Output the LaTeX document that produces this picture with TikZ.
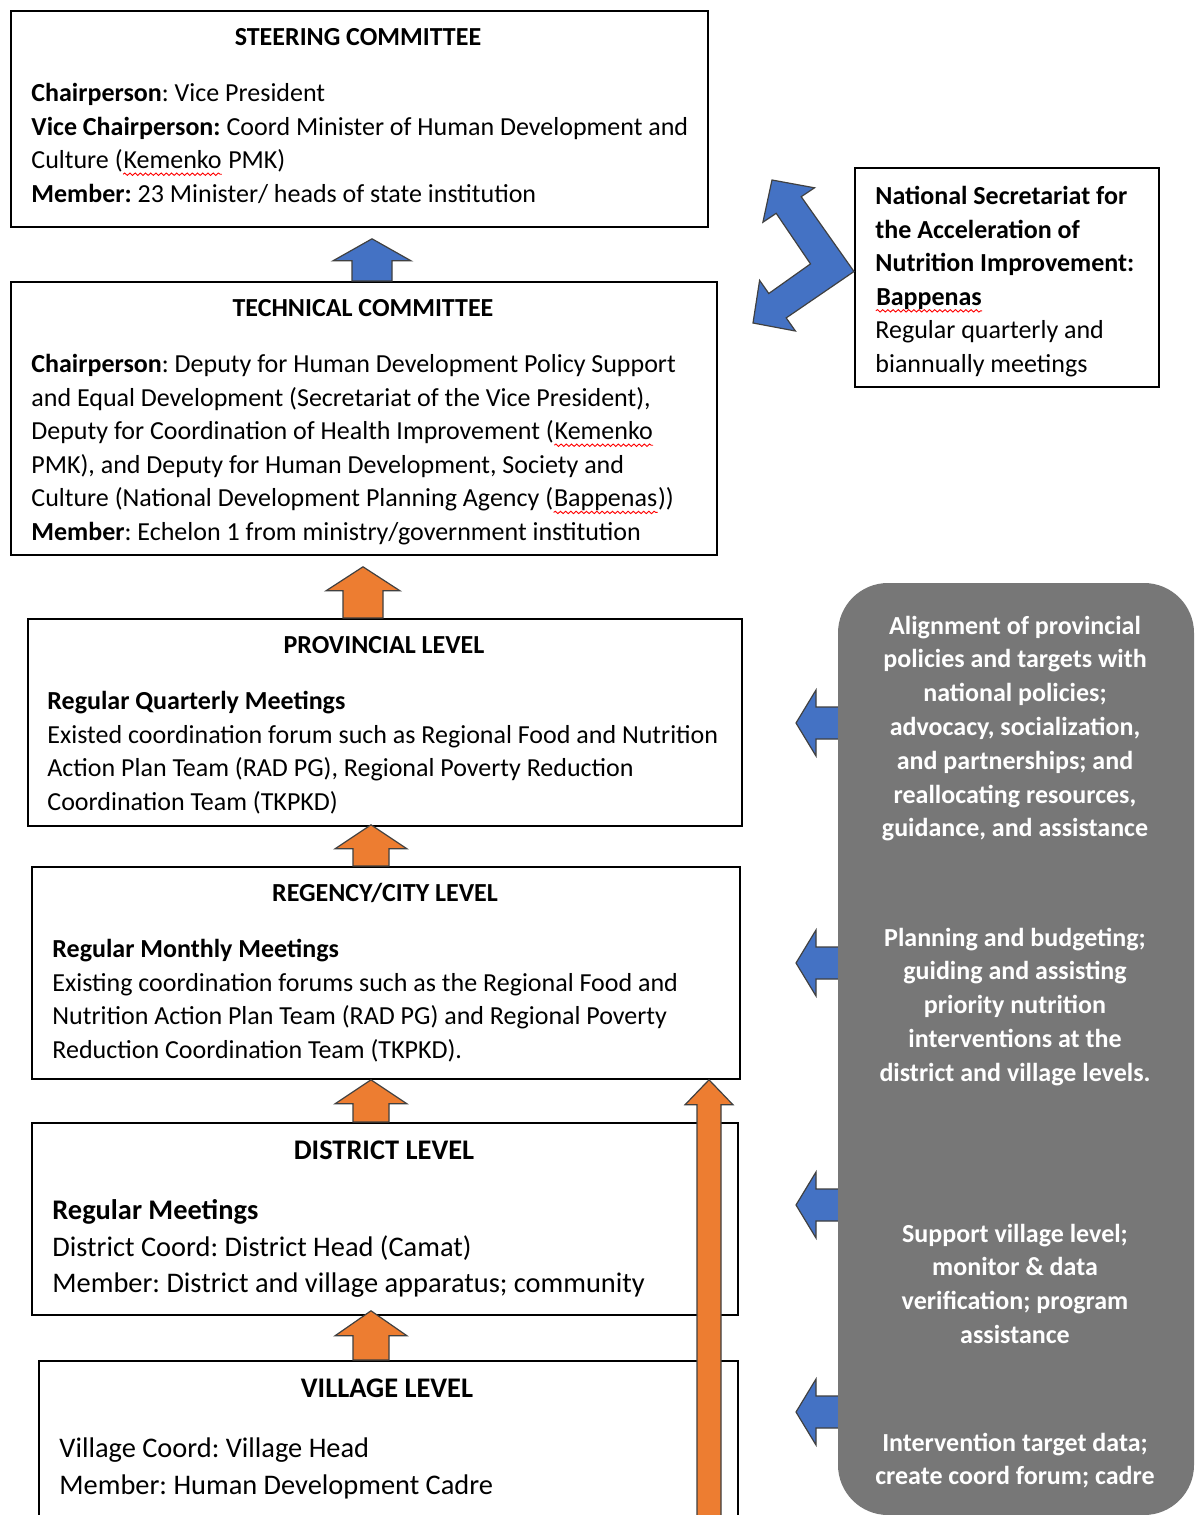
\documentclass[tikz,border=0pt]{standalone}
\usepackage{fontspec}
\setmainfont{Carlito}
\usetikzlibrary{calc}
\usetikzlibrary{decorations.pathmorphing}

\definecolor{arrblue}{HTML}{4472C4}
\definecolor{arrorange}{HTML}{ED7D31}
\definecolor{panelgray}{HTML}{777777}

% red wavy underline of the spell check
\newcommand{\spellerr}[1]{\tikz[baseline=(word.base)]{\node[inner sep=0pt] (word) {#1};
	\draw[red,line width=0.45pt,decorate,decoration={snake,amplitude=0.6pt,segment length=2.6pt}]
		([yshift=-2.8pt]word.base west) -- ([yshift=-2.8pt]word.base east);}}

% block arrow pointing up: fill, tip, base, shaft half, head half, head length
\newcommand{\upblock}[6]{%
	\filldraw[blockarrow,fill=#1] ($(#3)+(-#4,0)$) -- ($(#2)+(-#4,#6)$) -- ($(#2)+(-#5,#6)$) -- (#2)
		-- ($(#2)+(#5,#6)$) -- ($(#2)+(#4,#6)$) -- ($(#3)+(#4,0)$) -- cycle;}
% block arrow pointing left: tip, base
\newcommand{\leftblock}[2]{%
	\filldraw[blockarrow,fill=arrblue] ($(#2)+(0,-16)$) -- ($(#1)+(20,-16)$) -- ($(#1)+(20,-33)$) -- (#1)
		-- ($(#1)+(20,33)$) -- ($(#1)+(20,16)$) -- ($(#2)+(0,16)$) -- cycle;}

\tikzset{
	blockarrow/.style={draw=black!75,line width=0.6pt,line join=miter},
	levelbox/.style 2 args={draw,line width=0.9pt,fill=white,anchor=north west,inner sep=0pt,
		minimum width=#1*0.5pt,minimum height=#2*0.5pt},
	boxtitle/.style={font=\fontsize{13}{16.8}\selectfont\bfseries,inner sep=0pt},
	boxtext/.style={font=\fontsize{13}{16.8}\selectfont\frenchspacing,align=left,anchor=north west,inner sep=0pt},
	bigtitle/.style={font=\fontsize{14.2}{18.2}\selectfont\bfseries,inner sep=0pt},
	bigtext/.style={font=\fontsize{14.2}{18.2}\selectfont\frenchspacing,align=left,anchor=north west,inner sep=0pt},
	paneltext/.style={font=\fontsize{13}{16.9}\selectfont\bfseries\frenchspacing,text=white,align=center,anchor=north,inner sep=0pt},
}

\begin{document}
\begin{tikzpicture}[x=0.5pt,y=-0.5pt]
	\useasboundingbox (0,0) rectangle (1194,1515);
	\fill[white] (0,0) rectangle (1194,1515);

	% committee and level boxes
	\node[levelbox={697}{216}] (steer) at (10,10) {};
	\node[levelbox={706}{273}] (tech) at (10,281) {};
	\node[levelbox={304}{219}] (secr) at (854,167) {};
	\node[levelbox={714}{207}] (prov) at (27,618) {};
	\node[levelbox={708}{212}] (reg) at (31,866) {};
	\node[levelbox={706}{192}] (dist) at (31,1122) {};
	\node[levelbox={699}{200}] (vill) at (38,1360) {};

	\node[boxtitle] (steer title) at (358,37) {STEERING COMMITTEE};
	\node[boxtext] (steer text) at (31,77.5) {\strut\textbf{Chairperson}: Vice President\\
		\textbf{Vice Chairperson:} Coord Minister of Human Development and\\
		Culture (\spellerr{Kemenko} PMK)\\
		\textbf{Member:} 23 Minister/ heads of state institution};

	\node[boxtitle] (tech title) at (363,308) {TECHNICAL COMMITTEE};
	\node[boxtext] (tech text) at (31,348.5) {\strut\textbf{Chairperson}: Deputy for Human Development Policy Support\\
		and Equal Development (Secretariat of the Vice President),\\
		Deputy for Coordination of Health Improvement (\spellerr{Kemenko}\\
		PMK), and Deputy for Human Development, Society and\\
		Culture (National Development Planning Agency (\spellerr{Bappenas}))\\
		\textbf{Member}: Echelon 1 from ministry/government institution};

	\node[boxtext] (secr text) at (875,180.5) {\strut\textbf{National Secretariat for}\\
		\textbf{the Acceleration of}\\
		\textbf{Nutrition Improvement:}\\
		\spellerr{\textbf{Bappenas}}\\
		Regular quarterly and\\
		biannually meetings};

	\node[boxtitle] (prov title) at (384,645) {PROVINCIAL LEVEL};
	\node[boxtext] (prov text) at (47,685.5) {\strut\textbf{Regular Quarterly Meetings}\\
		Existed coordination forum such as Regional Food and Nutrition\\
		Action Plan Team (RAD PG), Regional Poverty Reduction\\
		Coordination Team (TKPKD)};

	\node[boxtitle] (reg title) at (385,893) {REGENCY/CITY LEVEL};
	\node[boxtext] (reg text) at (52,933.5) {\strut\textbf{Regular Monthly Meetings}\\
		Existing coordination forums such as the Regional Food and\\
		Nutrition Action Plan Team (RAD PG) and Regional Poverty\\
		Reduction Coordination Team (TKPKD).};

	\node[bigtitle] (dist title) at (384,1150) {DISTRICT LEVEL};
	\node[bigtext] (dist text) at (52,1194) {\strut\textbf{Regular Meetings}\\
		District Coord: District Head (Camat)\\
		Member: District and village apparatus; community};

	\node[bigtitle] (vill title) at (387,1388) {VILLAGE LEVEL};
	\node[bigtext] (vill text) at (59,1432) {\strut Village Coord: Village Head\\
		Member: Human Development Cadre};

	% arrows between the levels
	\coordinate (a1 tip) at ($(372,0 |- steer.south)+(0,11)$);
	\coordinate (a1 base) at (372,0 |- tech.north);
	\upblock{arrblue}{a1 tip}{a1 base}{20}{39}{22}
	\coordinate (a2 tip) at ($(363,0 |- tech.south)+(0,11)$);
	\coordinate (a2 base) at (363,0 |- prov.north);
	\upblock{arrorange}{a2 tip}{a2 base}{20}{37}{24}
	\coordinate (a3 tip) at ($(371,0 |- prov.south)+(0,-2)$);
	\coordinate (a3 base) at (371,0 |- reg.north);
	\upblock{arrorange}{a3 tip}{a3 base}{18}{36}{24}
	\coordinate (a4 tip) at (371,0 |- reg.south);
	\coordinate (a4 base) at (371,0 |- dist.north);
	\upblock{arrorange}{a4 tip}{a4 base}{18}{36}{24}
	\coordinate (a5 tip) at ($(371,0 |- dist.south)+(0,-5)$);
	\coordinate (a5 base) at (371,0 |- vill.north);
	\upblock{arrorange}{a5 tip}{a5 base}{18}{36}{25}
	\coordinate (long tip) at (709,0 |- reg.south);
	\coordinate (long base) at (709,1560);
	\upblock{arrorange}{long tip}{long base}{12}{24}{25}

	% two-way arrow to the national secretariat
	\filldraw[blockarrow,fill=arrblue] (772,180) -- (814.5,187.8) -- (801.2,196.7) -- (secr.west |- 0,271.5)
		-- (786.2,317.9) -- (795.4,331) -- (753,323) -- (759.6,280.4) -- (768.8,293.5)
		-- (810.5,263.9) -- (776.2,213.3) -- (762.9,222.2) -- cycle;

	% support panel
	\foreach \y in {723,963,1205,1412}
		\leftblock{796,\y}{846,\y};
	\fill[panelgray,rounded corners=25pt] (838,583) rectangle (1194,1515);
	\node[paneltext] (panel one) at (1015,610) {\strut Alignment of provincial\\
		policies and targets with\\
		national policies;\\
		advocacy, socialization,\\
		and partnerships; and\\
		reallocating resources,\\
		guidance, and assistance};
	\node[paneltext] (panel two) at (1015,922) {\strut Planning and budgeting;\\
		guiding and assisting\\
		priority nutrition\\
		interventions at the\\
		district and village levels.};
	\node[paneltext] (panel three) at (1015,1218) {\strut Support village level;\\
		monitor \& data\\
		verification; program\\
		assistance};
	\node[paneltext] (panel four) at (1015,1427) {\strut Intervention target data;\\
		create coord forum; cadre};
\end{tikzpicture}
\end{document}
